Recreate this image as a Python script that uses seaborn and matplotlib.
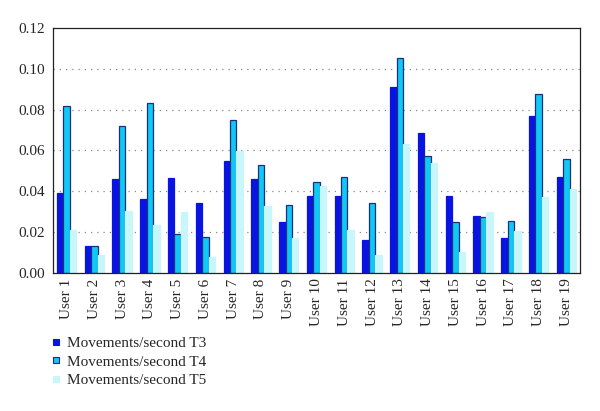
import numpy as np
import pandas as pd
import matplotlib
matplotlib.use("Agg")
import matplotlib.pyplot as plt
import seaborn as sns
from matplotlib.lines import Line2D

# Data
users = [f"User {i}" for i in range(1, 20)]
t3 = [0.039, 0.013, 0.046, 0.036, 0.0465, 0.034, 0.055, 0.046, 0.025, 0.0377,
      0.0376, 0.016, 0.091, 0.0687, 0.0376, 0.028, 0.017, 0.077, 0.047]
t4 = [0.082, 0.013, 0.072, 0.083, 0.019, 0.0175, 0.075, 0.0527, 0.0335, 0.0446,
      0.047, 0.034, 0.1055, 0.0573, 0.025, 0.0276, 0.0256, 0.0877, 0.056]
t5 = [0.021, 0.0087, 0.0305, 0.0233, 0.0297, 0.0077, 0.0596, 0.033, 0.0173, 0.0428,
      0.0212, 0.0087, 0.0633, 0.0539, 0.0101, 0.0297, 0.0207, 0.0374, 0.0411]
series = ["Movements/second T3", "Movements/second T4", "Movements/second T5"]

fill_colors = ["#0A14E0", "#10C8F4", "#C8F6FA"]
edge_colors = ["#0A14E0", "#1A2F80", "#C8F6FA"]

df = pd.DataFrame({
    "user": users * 3,
    "value": t3 + t4 + t5,
    "series": [series[0]] * 19 + [series[1]] * 19 + [series[2]] * 19,
})

sns.set_style("white")
plt.rcParams['font.family'] = ['Liberation Serif', 'DejaVu Serif']

fig = plt.figure(figsize=(6, 4.11), dpi=100)
ax = fig.add_axes([0.088, 0.336, 0.879, 0.596])

sns.barplot(data=df, x="user", y="value", hue="series", palette=fill_colors,
            width=0.7, gap=0, saturation=1, ax=ax, legend=False)

# outline each series like the original
for cont, ec in zip(ax.containers, edge_colors):
    for bar in cont:
        bar.set_edgecolor(ec)
        bar.set_linewidth(0.9)

ax.set_ylim(0, 0.12)
ax.set_xlim(-0.5, 18.5)
ax.set_yticks(np.arange(0, 0.121, 0.02))
ax.set_yticklabels([f"{v:.2f}" for v in np.arange(0, 0.121, 0.02)], fontsize=11)
ax.set_xticklabels(users, rotation=90, fontsize=11)
ax.set_xlabel("")
ax.set_ylabel("")

# dotted horizontal gridlines (not on the top frame)
for v in np.arange(0.02, 0.11, 0.02):
    ax.axhline(v, color="#888888", linestyle=(0, (1, 4)), linewidth=0.9, zorder=0)

# tick marks at category boundaries
ax.set_xticks(np.arange(-0.5, 19, 1), minor=True)
ax.tick_params(axis="x", which="major", length=0, pad=4)
ax.tick_params(axis="x", which="minor", length=4, width=0.8, color="#333333", direction="out")
ax.tick_params(axis="y", length=3, width=0.8, color="#333333", direction="out", pad=2.5)

for s in ax.spines.values():
    s.set_visible(True)
    s.set_color("#222222")
    s.set_linewidth(0.9)

handles = [
    Line2D([], [], marker="s", linestyle="", markersize=5,
           markerfacecolor=fill_colors[i], markeredgecolor=edge_colors[i],
           markeredgewidth=0.8)
    for i in range(3)
]
fig.legend(handles, series, loc="upper left", bbox_to_anchor=(0.073, 0.196),
           frameon=False, fontsize=11, handlelength=0.8, handletextpad=0.3,
           labelspacing=0.32, borderaxespad=0)

fig.savefig("out.png", dpi=100)
